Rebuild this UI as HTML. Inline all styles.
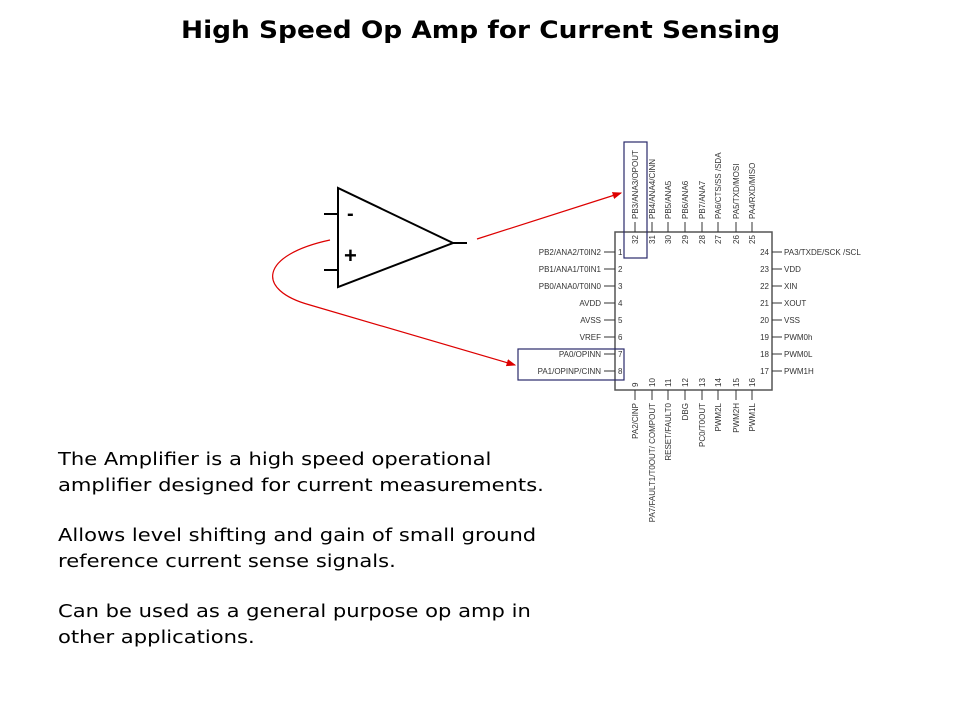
<!DOCTYPE html>
<html><head><meta charset="utf-8"><style>
body{margin:0;background:#fff;width:960px;height:720px;overflow:hidden;position:relative;font-family:"DejaVu Sans","Liberation Sans",sans-serif}
h1{position:absolute;top:16px;left:181px;margin:0;font-size:24px;font-weight:bold;color:#000;white-space:nowrap;transform:scaleX(1.1);transform-origin:0 0}
.t{position:absolute;left:58px;font-size:18px;line-height:26px;color:#000;white-space:nowrap;transform:scaleX(1.17);transform-origin:0 0}
</style></head><body>
<h1>High Speed Op Amp for Current Sensing</h1>
<svg width="960" height="720" style="position:absolute;left:0;top:0" font-family="Liberation Sans, sans-serif">
<defs><marker id="a" markerWidth="8" markerHeight="8" refX="7" refY="4" orient="auto"><path d="M0,1 L8,4 L0,7z" fill="#d00"/></marker></defs>
<g stroke="#000" stroke-width="2" fill="none">
<path d="M338,188 L338,287 L453,243 Z"/>
<line x1="324" y1="214" x2="338" y2="214"/><line x1="324" y1="270" x2="338" y2="270"/>
<line x1="453" y1="243" x2="467" y2="243"/>
</g>
<text x="347" y="220" font-size="20" font-weight="bold">-</text>
<text x="344" y="263" font-size="22" font-weight="bold">+</text>
<g stroke="#d00" stroke-width="1.2" fill="none">
<line x1="477" y1="239" x2="621" y2="193" marker-end="url(#a)"/>
<path d="M330,240 C260,255 255,290 310,305 L515,365" marker-end="url(#a)"/>
</g>
<rect x="615" y="232" width="157" height="158" fill="none" stroke="#555" stroke-width="1.5"/>
<g stroke="#333" stroke-width="1">
<line x1="604" y1="252" x2="615" y2="252"/><line x1="604" y1="269" x2="615" y2="269"/><line x1="604" y1="286" x2="615" y2="286"/><line x1="604" y1="303" x2="615" y2="303"/><line x1="604" y1="320" x2="615" y2="320"/><line x1="604" y1="337" x2="615" y2="337"/><line x1="604" y1="354" x2="615" y2="354"/><line x1="604" y1="371" x2="615" y2="371"/>
<line x1="772" y1="252" x2="782" y2="252"/><line x1="772" y1="269" x2="782" y2="269"/><line x1="772" y1="286" x2="782" y2="286"/><line x1="772" y1="303" x2="782" y2="303"/><line x1="772" y1="320" x2="782" y2="320"/><line x1="772" y1="337" x2="782" y2="337"/><line x1="772" y1="354" x2="782" y2="354"/><line x1="772" y1="371" x2="782" y2="371"/>
<line x1="635" y1="222" x2="635" y2="232"/><line x1="652" y1="222" x2="652" y2="232"/><line x1="668" y1="222" x2="668" y2="232"/><line x1="685" y1="222" x2="685" y2="232"/><line x1="702" y1="222" x2="702" y2="232"/><line x1="718" y1="222" x2="718" y2="232"/><line x1="736" y1="222" x2="736" y2="232"/><line x1="752" y1="222" x2="752" y2="232"/>
<line x1="635" y1="390" x2="635" y2="400"/><line x1="652" y1="390" x2="652" y2="400"/><line x1="668" y1="390" x2="668" y2="400"/><line x1="685" y1="390" x2="685" y2="400"/><line x1="702" y1="390" x2="702" y2="400"/><line x1="718" y1="390" x2="718" y2="400"/><line x1="736" y1="390" x2="736" y2="400"/><line x1="752" y1="390" x2="752" y2="400"/>
</g>
<g font-size="8" fill="#333" text-anchor="end">
<text x="601" y="255">PB2/ANA2/T0IN2</text><text x="601" y="272">PB1/ANA1/T0IN1</text><text x="601" y="289">PB0/ANA0/T0IN0</text><text x="601" y="306">AVDD</text><text x="601" y="323">AVSS</text><text x="601" y="340">VREF</text><text x="601" y="357">PA0/OPINN</text><text x="601" y="374">PA1/OPINP/CINN</text>
<text x="769" y="255">24</text><text x="769" y="272">23</text><text x="769" y="289">22</text><text x="769" y="306">21</text><text x="769" y="323">20</text><text x="769" y="340">19</text><text x="769" y="357">18</text><text x="769" y="374">17</text>
</g>
<g font-size="8" fill="#333">
<text x="618" y="255">1</text><text x="618" y="272">2</text><text x="618" y="289">3</text><text x="618" y="306">4</text><text x="618" y="323">5</text><text x="618" y="340">6</text><text x="618" y="357">7</text><text x="618" y="374">8</text>
<text x="784" y="255">PA3/TXDE/SCK /SCL</text><text x="784" y="272">VDD</text><text x="784" y="289">XIN</text><text x="784" y="306">XOUT</text><text x="784" y="323">VSS</text><text x="784" y="340">PWM0h</text><text x="784" y="357">PWM0L</text><text x="784" y="374">PWM1H</text>
</g>
<g font-size="8" fill="#333">
<text transform="translate(638,219) rotate(-90)">PB3/ANA3/OPOUT</text><text transform="translate(655,219) rotate(-90)">PB4/ANA4/CINN</text><text transform="translate(671,219) rotate(-90)">PB5/ANA5</text><text transform="translate(688,219) rotate(-90)">PB6/ANA6</text><text transform="translate(705,219) rotate(-90)">PB7/ANA7</text><text transform="translate(721,219) rotate(-90)">PA6/CTS/SS /SDA</text><text transform="translate(739,219) rotate(-90)">PA5/TXD/MOSI</text><text transform="translate(755,219) rotate(-90)">PA4/RXD/MISO</text>
<text transform="translate(638,244) rotate(-90)">32</text><text transform="translate(655,244) rotate(-90)">31</text><text transform="translate(671,244) rotate(-90)">30</text><text transform="translate(688,244) rotate(-90)">29</text><text transform="translate(705,244) rotate(-90)">28</text><text transform="translate(721,244) rotate(-90)">27</text><text transform="translate(739,244) rotate(-90)">26</text><text transform="translate(755,244) rotate(-90)">25</text>
<text transform="translate(638,387) rotate(-90)">9</text><text transform="translate(655,387) rotate(-90)">10</text><text transform="translate(671,387) rotate(-90)">11</text><text transform="translate(688,387) rotate(-90)">12</text><text transform="translate(705,387) rotate(-90)">13</text><text transform="translate(721,387) rotate(-90)">14</text><text transform="translate(739,387) rotate(-90)">15</text><text transform="translate(755,387) rotate(-90)">16</text>
<text text-anchor="end" transform="translate(638,403) rotate(-90)">PA2/CINP</text><text text-anchor="end" transform="translate(655,403) rotate(-90)">PA7/FAULT1/T0OUT/ COMPOUT</text><text text-anchor="end" transform="translate(671,403) rotate(-90)">RESET/FAULT0</text><text text-anchor="end" transform="translate(688,403) rotate(-90)">DBG</text><text text-anchor="end" transform="translate(705,403) rotate(-90)">PC0/T0OUT</text><text text-anchor="end" transform="translate(721,403) rotate(-90)">PWM2L</text><text text-anchor="end" transform="translate(739,403) rotate(-90)">PWM2H</text><text text-anchor="end" transform="translate(755,403) rotate(-90)">PWM1L</text>
</g>
<rect x="624" y="142" width="23" height="116" fill="none" stroke="#2a2a6a" stroke-width="1.2"/>
<rect x="518" y="349" width="106" height="31" fill="none" stroke="#2a2a6a" stroke-width="1.2"/>
</svg>
<div class="t" style="top:447px">The Amplifier is a high speed operational<br>amplifier designed for current measurements.</div>
<div class="t" style="top:523px">Allows level shifting and gain of small ground<br>reference current sense signals.</div>
<div class="t" style="top:599px">Can be used as a general purpose op amp in<br>other applications.</div>
</body></html>
